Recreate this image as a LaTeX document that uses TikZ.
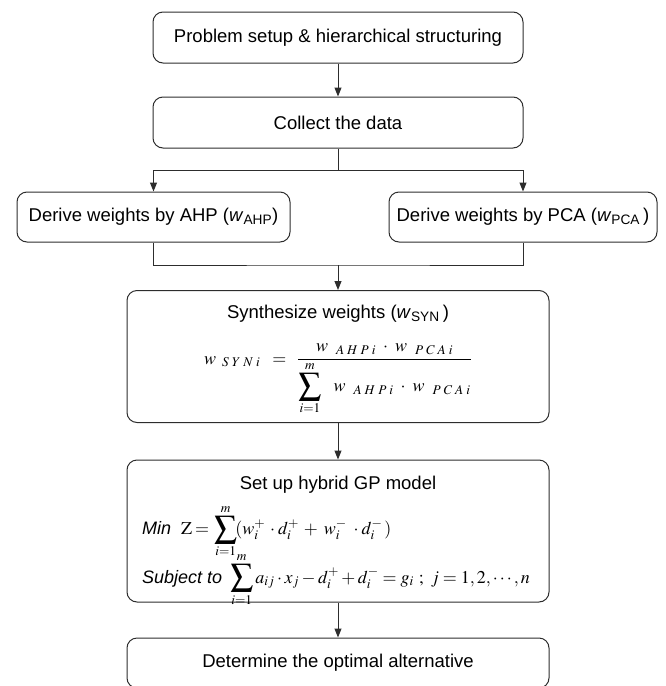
\documentclass[tikz,border=0pt]{standalone}
\usepackage{mathptmx}
\usepackage{graphicx}
\usepackage[no-math]{fontspec}
\setmainfont{Liberation Sans}
\usetikzlibrary{arrows.meta}
\definecolor{linec}{RGB}{45,45,45}
\newcommand\sg{\hspace{3pt}}
\newcommand\wsub[1]{w_{\hspace{8pt}#1}}
\newcommand\bigsum{\mathop{\vcenter{\hbox{\scalebox{1.25}{$\displaystyle\sum$}}}}\limits}
\begin{document}
\begin{tikzpicture}[x=1pt,y=-1pt,
  box/.style={draw=linec, line width=1pt, rounded corners=10pt, inner sep=0pt},
  lbl/.style={font=\fontsize{18.5}{21}\selectfont, text=black, inner sep=0pt},
  mth/.style={font=\fontsize{18}{21}\selectfont, text=black, inner sep=0pt},
  conn/.style={draw=linec, line width=1pt},
  arr/.style={conn, -{Triangle[length=9pt,width=7pt]}}]
\useasboundingbox (0,0) rectangle (665,686);
% boxes
\node[box, minimum width=370pt, minimum height=51pt, lbl] (setup) at (338,37.5) {Problem setup \& hierarchical structuring};
\node[box, minimum width=370pt, minimum height=51pt, lbl] (collect) at (338,122.5) {Collect the data};
\node[box, minimum width=273pt, minimum height=50pt, lbl] (ahp) at (153.5,217) {Derive weights by AHP (\textit{w}\textsubscript{AHP})};
\node[box, minimum width=268pt, minimum height=50pt, lbl] (pca) at (523,217) {Derive weights by PCA (\textit{w}\textsubscript{PCA}\,)};
\node[box, minimum width=422pt, minimum height=132pt] (syn) at (338,356.5) {};
\node[lbl] (synt) at (338,314) {Synthesize weights (\textit{w}\textsubscript{SYN}\,)};
\node[mth, anchor=base west] (synf) at (204,364) {$\displaystyle w_{\hspace{6pt}S\sg Y\sg N\sg i}\hspace{12pt}{=}\hspace{11pt}\frac{\wsub{A\sg H\sg P\sg i}\hspace{7pt}{\cdot}\hspace{7pt}\wsub{P\sg C\sg A\sg i}}{\bigsum_{i=1}^{m}\hspace{10pt}\wsub{A\sg H\sg P\sg i}\hspace{7pt}{\cdot}\hspace{7pt}\wsub{P\sg C\sg A\sg i}}$};
\node[box, minimum width=422pt, minimum height=142pt] (gp) at (338,531) {};
\node[lbl] (gpt) at (338,485) {Set up hybrid GP model};
\node[mth, anchor=base west] (gpmin) at (142,534.5) {\textit{Min}\hspace{10pt}$\mathrm{Z}\mskip3mu{=}\mskip3mu\bigsum_{i=1}^{m}\!(w_i^{+}\mskip5mu{\cdot}\mskip3mu d_i^{+}\mskip5mu{+}\mskip6mu w_i^{-}\mskip7mu{\cdot}\mskip3mu d_i^{-}\mskip2mu)$};
\node[mth, anchor=base west] (gpsub) at (142,583) {\textit{Subject to}\hspace{8pt}$\bigsum_{i=1}^{m}a_{ij}\cdot x_{j}-d_i^{+}+d_i^{-}=g_{i}\ ;\ j=1,2,\cdots,n$};
\node[box, minimum width=422pt, minimum height=50pt, lbl] (best) at (338,663) {Determine the optimal alternative};
% connectors
\coordinate (split) at (338,170);
\coordinate (join) at (338,265);
\draw[arr] (setup.south) -- (collect.north);
\draw[conn] (collect.south) -- (split);
\draw[arr] (split) -| (ahp.north);
\draw[arr] (split) -| (pca.north);
\draw[conn] (ahp.south) |- (join) -| (pca.south);
\draw[arr] (join) -- (syn.north);
\draw[arr] (syn.south) -- (gp.north);
\draw[arr] (gp.south) -- (best.north);
\end{tikzpicture}
\end{document}
